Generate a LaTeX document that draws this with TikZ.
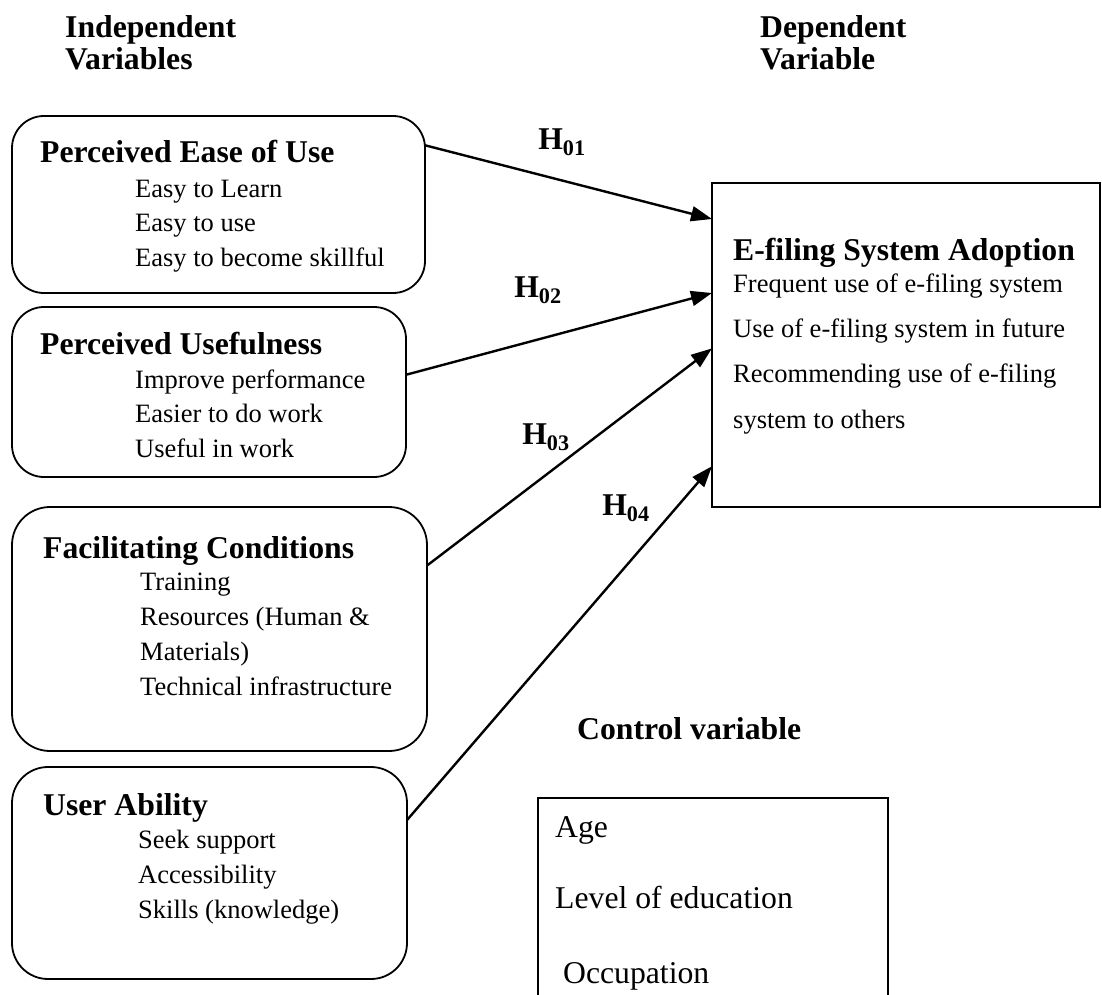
\documentclass[tikz,border=0pt]{standalone}
\usepackage{fontspec}
\setmainfont{Liberation Serif}
\usetikzlibrary{arrows.meta}
\begin{document}
\begin{tikzpicture}[x=1pt,y=-1pt,
  box/.style={draw, line width=1.8pt, rounded corners=32pt, inner sep=0pt, outer sep=0pt, anchor=north west},
  sqbox/.style={draw, line width=1.8pt, inner sep=0pt, outer sep=0pt, anchor=north west},
  ttl/.style={anchor=base west, inner sep=0pt, font=\fontsize{31.7}{36}\selectfont\bfseries},
  body/.style={anchor=base west, inner sep=0pt, font=\fontsize{26.5}{30}\selectfont},
  ctrl/.style={anchor=base west, inner sep=0pt, font=\fontsize{31.7}{36}\selectfont},
  hyp/.style={inner sep=0pt, font=\fontsize{31.7}{36}\selectfont\bfseries},
  link/.style={line width=2.4pt, -{Triangle[length=21pt,width=15pt]}}]

\useasboundingbox (0,0) rectangle (1102,995);

% headings
\node[ttl] (h1a) at (65,38) {Independent};
\node[ttl] (h1b) at (65,70) {Variables};
\node[ttl] (h2a) at (760,38) {Dependent};
\node[ttl] (h2b) at (760,70) {Variable};

% boxes
\node[box, minimum width=413pt, minimum height=177pt] (peou) at (12,116) {};
\node[box, minimum width=394pt, minimum height=170pt] (pu) at (12,307) {};
\node[box, rounded corners=38pt, minimum width=415pt, minimum height=244pt] (fc) at (12,507) {};
\node[box, rounded corners=36pt, minimum width=395pt, minimum height=212pt] (ua) at (12,767) {};
\node[sqbox, minimum width=388pt, minimum height=324pt] (dv) at (712,183) {};

% box 1
\node[ttl] (t1) at (40,163) {Perceived Ease of Use};
\foreach \t/\y [count=\i] in {Easy to Learn/197, Easy to use/231, Easy to become skillful/266}
  \node[body] (ia\i) at (135,\y) {\t};

% box 2
\node[ttl] (t2) at (40,354) {Perceived Usefulness};
\foreach \t/\y [count=\i] in {Improve performance/388, Easier to do work/422, Useful in work/457}
  \node[body] (ib\i) at (135,\y) {\t};

% box 3
\node[ttl] (t3) at (43,558) {Facilitating Conditions};
\foreach \t/\y [count=\i] in {Training/590, Resources (Human \&/625, Materials)/660, Technical infrastructure/695}
  \node[body] (ic\i) at (140,\y) {\t};

% box 4
\node[ttl] (t4) at (43,815) {User Ability};
\foreach \t/\y [count=\i] in {Seek support/848, Accessibility/883, Skills (knowledge)/918}
  \node[body] (id\i) at (138,\y) {\t};

% dependent box
\node[ttl] (t5) at (733,260) {E-filing System Adoption};
\foreach \t/\y [count=\i] in {Frequent use of e-filing system/292, Use of e-filing system in future/337, Recommending use of e-filing/382, system to others/428}
  \node[body] (ie\i) at (733,\y) {\t};

% control variable
\node[ttl] (t6) at (577,739) {Control variable};
\coordinate (cbl) at (538,995);
\coordinate (cbr) at (888,995);
\draw[line width=1.8pt] (cbl) |- (888,798) -- (cbr);
\node[ctrl] (f1) at (555,837) {Age};
\node[ctrl] (f2) at (555,908) {Level of education};
\node[ctrl] (f3) at (555,983) {\ Occupation};

% arrows
\draw[link] (peou.16.6) -- (dv.147.4);
\draw[link] (pu.5.5) -- (dv.165);
\draw[link] (fc.17.1) -- (dv.181.5);
\draw[link] (ua.15.8) -- (dv.212.2);

% hypothesis labels
\node[hyp] (H1) at (562,142) {H\textsubscript{01}};
\node[hyp] (H2) at (538,290) {H\textsubscript{02}};
\node[hyp] (H3) at (546,437) {H\textsubscript{03}};
\node[hyp] (H4) at (626,508) {H\textsubscript{04}};
\end{tikzpicture}
\end{document}
